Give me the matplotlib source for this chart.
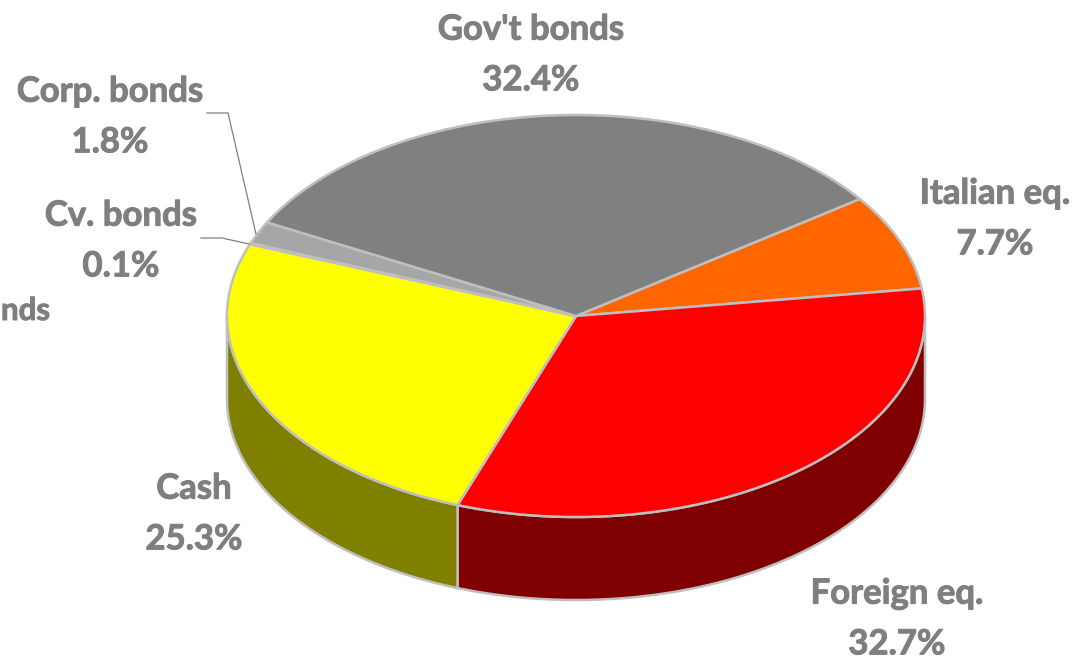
import numpy as np
import matplotlib
matplotlib.use("Agg")
import matplotlib.pyplot as plt
import matplotlib.patheffects as pe

# Portfolio allocation, clockwise from the Italian equity slice
categories = ["Italian eq.", "Foreign eq.", "Cash", "Cv. bonds", "Corp. bonds", "Gov't bonds"]
shares = [7.7, 32.7, 25.3, 0.1, 1.8, 32.4]
top_colors = ["#FF6600", "#FF0000", "#FFFF00", "#BFBFBF", "#A6A6A6", "#808080"]
side_colors = ["#803300", "#7F0000", "#808000", "#606060", "#535353", "#404040"]

# Pixel geometry of the tilted disc
CX, CY, RX, RY, DEPTH = 576, 316, 349, 201, 83
START_ANGLE = 35.6
EDGE = "#BFBFBF"
TEXT = "#7F7F7F"
LABEL_SIZE = 25

# Centre of each two-line label, in category order
label_xy = [(995, 219), (897, 619), (194, 514), (121, 241), (110, 117), (531, 55)]


def rim(a0, a1, drop=0.0):
    t = np.radians(np.linspace(a0, a1, max(2, int(abs(a1 - a0) * 2) + 1)))
    return CX + RX * np.cos(t), CY - RY * np.sin(t) + drop


fig = plt.figure(figsize=(10.78, 6.59), dpi=100, facecolor="white")
ax = fig.add_axes([0, 0, 1, 1])
ax.set_xlim(0, 1078)
ax.set_ylim(659, 0)
ax.axis("off")

edges = START_ANGLE - np.concatenate([[0], np.cumsum(shares)]) * 3.6

# Walls: only the part of each slice on the near half of the rim shows
for a0, a1, col in zip(edges[:-1], edges[1:], side_colors):
    lo, hi = max(a1, -180.0), min(a0, 0.0)
    if hi <= lo:
        continue
    xt, yt = rim(hi, lo)
    xb, yb = rim(lo, hi, DEPTH)
    ax.fill(np.r_[xt, xb], np.r_[yt, yb], facecolor=col, edgecolor=EDGE, linewidth=1.8,
            joinstyle="round", zorder=2)

# Top faces
for a0, a1, col in zip(edges[:-1], edges[1:], top_colors):
    x, y = rim(a0, a1)
    ax.fill(np.r_[CX, x], np.r_[CY, y], facecolor=col, edgecolor=EDGE, linewidth=1.8,
            joinstyle="round", zorder=3)

# Leader lines for the two smallest slices
ax.plot([207, 228, 256], [113, 113, 234], color="#7F7F7F", lw=0.9, zorder=4)
ax.plot([201, 222, 249], [238, 238, 244], color="#7F7F7F", lw=0.9, zorder=4)

heavier = [pe.withStroke(linewidth=0.7, foreground=TEXT)]
for name, val, (lx, ly) in zip(categories, shares, label_xy):
    ax.text(lx, ly, f"{name}\n{val:.1f}%", ha="center", va="center", color=TEXT,
            family="Lato", weight="bold", fontsize=LABEL_SIZE, linespacing=1.72,
            path_effects=heavier, zorder=5)

# Tail of a label at the left edge of the canvas
ax.text(1, 311, "nds", ha="left", va="center", color=TEXT, family="Lato",
        weight="bold", fontsize=22.5, path_effects=heavier, zorder=5)

fig.savefig("out.png", dpi=100)
